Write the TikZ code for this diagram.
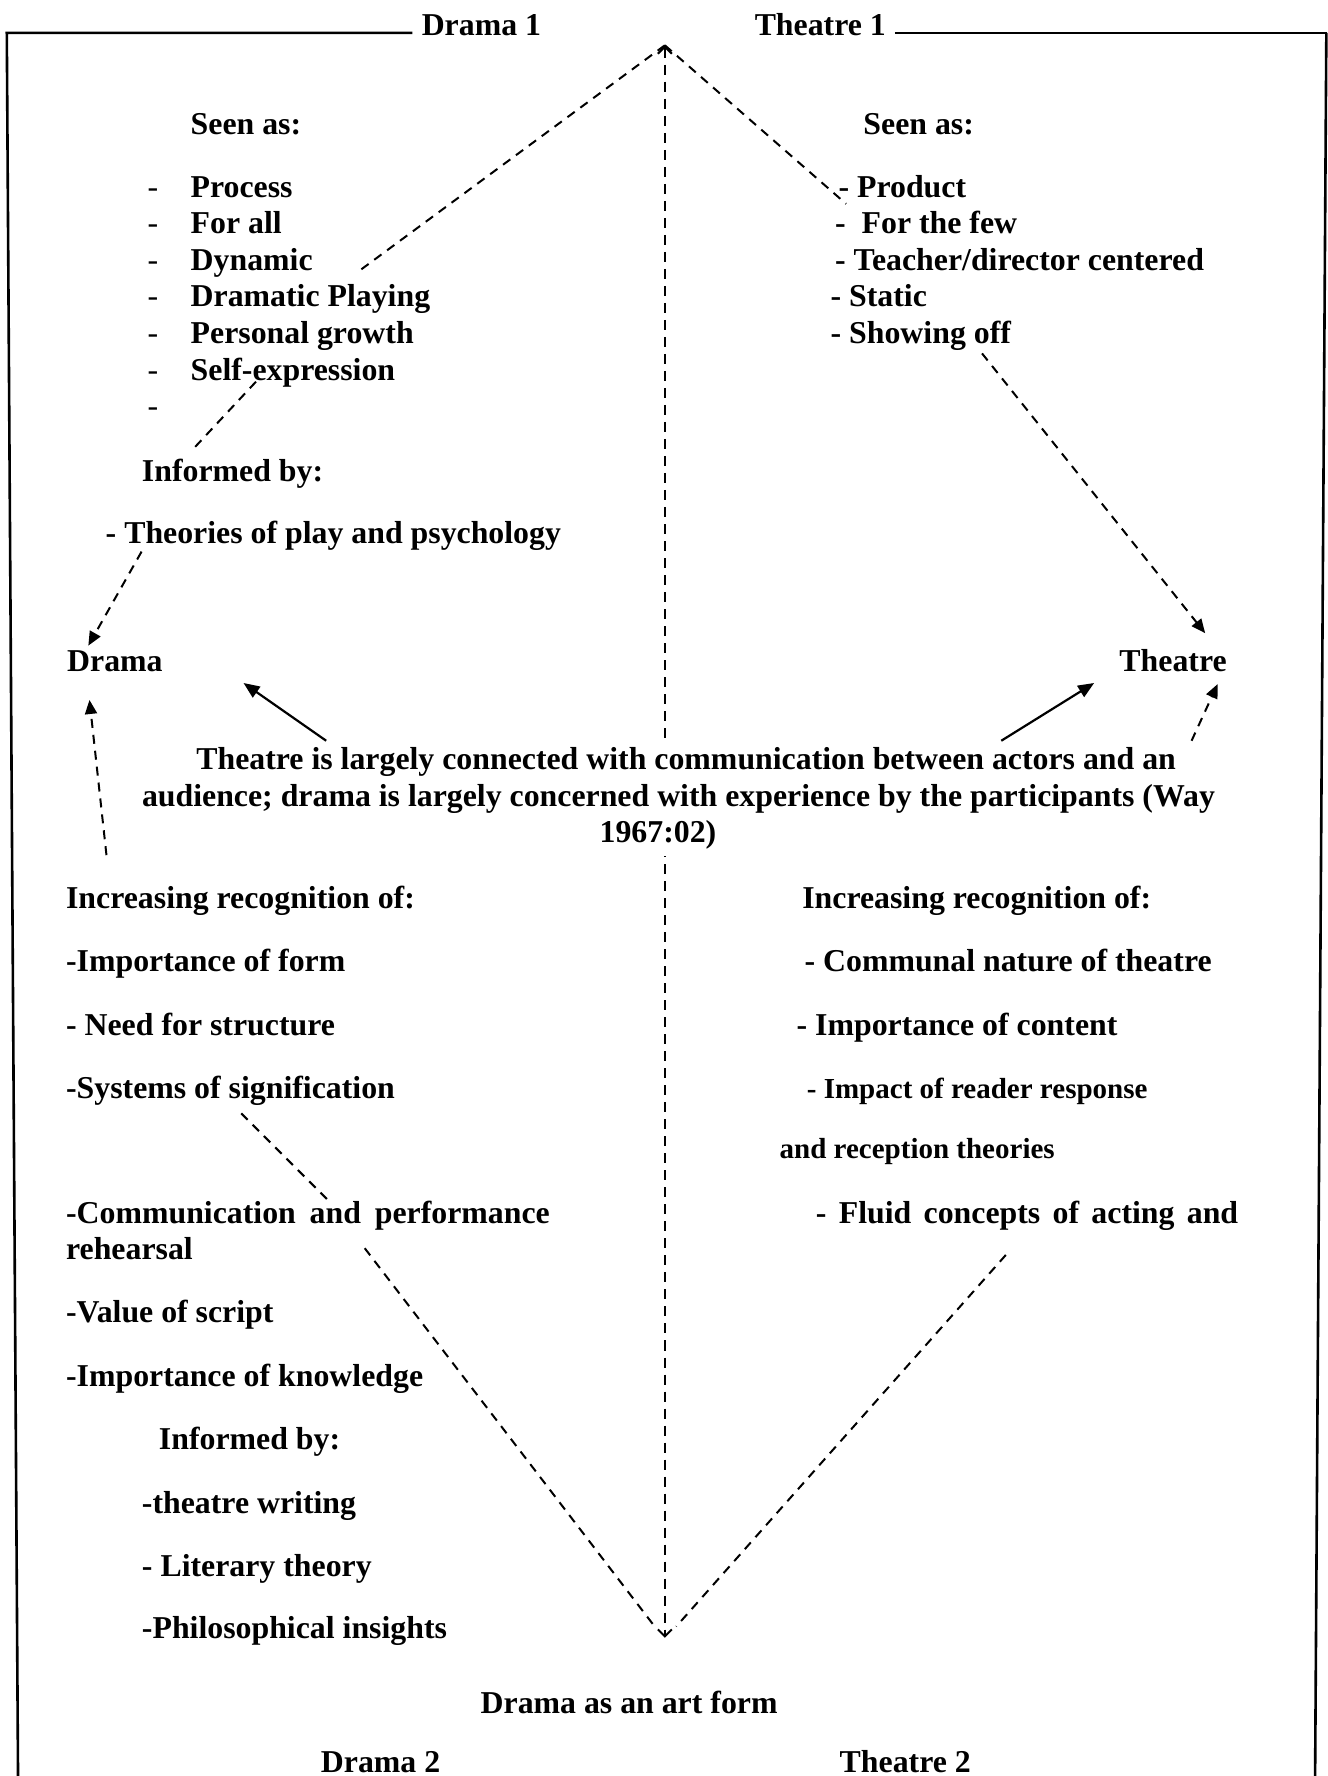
\documentclass[tikz,border=0pt]{standalone}
\usepackage{fontspec}
\setmainfont{Liberation Serif}
\usetikzlibrary{arrows.meta}
\begin{document}
\begin{tikzpicture}[x=0.566pt,y=-0.566pt,
  txt/.style={anchor=base west,inner sep=0pt,font=\fontsize{15.9}{18}\selectfont\bfseries},
  smalltxt/.style={anchor=base west,inner sep=0pt,font=\fontsize{14.5}{17}\selectfont\bfseries},
  quotetxt/.style={txt,fill=white,inner xsep=2pt,inner ysep=3.5pt},
  frameline/.style={line width=1.3pt},
  dashline/.style={line width=1pt,dash pattern=on 4.5pt off 3.5pt},
  dashtip/.style={dashline,-{Triangle[length=7pt,width=6pt]}},
  solidarrow/.style={line width=1.1pt,-{Triangle[length=8pt,width=6.5pt]}},
  axis/.style={line width=1pt,dash pattern=on 5pt off 3.5pt,
    {Straight Barb[length=3.5pt,width=7pt]}-{Straight Barb[length=3.5pt,width=7pt]}},
]
\useasboundingbox (0,0) rectangle (1172,1568);

% ---------- frame ----------
\coordinate (tl) at (6,29);
\coordinate (tlend) at (364,29);
\coordinate (trstart) at (790,29);
\coordinate (tr) at (1172,29);
\coordinate (trcorner) at (1171,29);
\coordinate (bl) at (16,1580);
\coordinate (br) at (1161,1580);
\draw[frameline] (tlend) -- (tl) -- (bl);
\draw[frameline] (trstart) -- (tr);
\draw[frameline] (trcorner) -- (br);

% ---------- central axis (drawn first, the quotation sits on top) ----------
\coordinate (apex) at (587,40);
\coordinate (base) at (587,1446);
\draw[axis] (apex) -- (base);

\node[txt] (dramaone) at (372,31) {Drama 1};
\node[txt] (theatreone) at (666,31) {Theatre 1};

% ---------- upper left: Drama 1 ----------
\node[txt] (seenL) at (168,119) {Seen as:};
\foreach \t [count=\i from 0] in {Process,For all,Dynamic,Dramatic Playing,Personal growth,Self-expression,{}}{
  \node[txt,font=\fontsize{15.9}{18}\selectfont] (dashL\i) at (130,174+32.3*\i) {-};
  \node[txt] (itemL\i) at (168,174+32.3*\i) {\t};
}
\node[txt] (informedL) at (125,425) {Informed by:};
\node[txt] (theories) at (93,480) {- Theories of play and psychology};

% ---------- upper right: Theatre 1 ----------
\node[txt] (seenR) at (762,119) {Seen as:};
\node[txt] (itemR0) at (740,174) {- Product};
\node[txt] (itemR1) at (737,206.3) {-\ \ For the few};
\node[txt] (itemR2) at (737,238.6) {- Teacher/director centered};
\node[txt] (itemR3) at (733,270.9) {- Static};
\node[txt] (itemR4) at (733,303.2) {- Showing off};

% ---------- the two poles ----------
\node[txt] (drama) at (59,593) {Drama};
\node[txt] (theatre) at (988,593) {Theatre};

% ---------- quotation ----------
\node[quotetxt] (quoteA) at (169.5,679) {Theatre is largely connected with communication between actors and an};
\node[quotetxt] (quoteB) at (121.5,712) {audience; drama is largely concerned with experience by the participants (Way};
\node[quotetxt] (quoteC) at (525.5,744) {1967:02)};

% ---------- lower left: Drama 2 ----------
\node[txt] (incL) at (58,802) {Increasing recognition of:};
\node[txt] (formL) at (58,858) {-Importance of form};
\node[txt] (structL) at (58,914) {- Need for structure};
\node[txt] (signL) at (58,970) {-Systems of signification};
\node[txt] (commL) at (58,1080) {\makebox[241.7pt][s]{-Communication and performance}};
\node[txt] (rehL) at (58,1112) {rehearsal};
\node[txt] (scriptL) at (58,1168) {-Value of script};
\node[txt] (knowL) at (58,1224) {-Importance of knowledge};
\node[txt] (informedL2) at (140,1280) {Informed by:};
\node[txt] (writingL) at (125,1336) {-theatre writing};
\node[txt] (literaryL) at (125,1392) {- Literary theory};
\node[txt] (philoL) at (125,1447) {-Philosophical insights};

% ---------- lower right: Theatre 2 ----------
\node[txt] (incR) at (708,802) {Increasing recognition of:};
\node[txt] (communalR) at (710,858) {- Communal nature of theatre};
\node[txt] (contentR) at (703,914) {- Importance of content};
\node[smalltxt] (impactR) at (712,970) {- Impact of reader response};
\node[smalltxt] (receptR) at (688,1023) {and reception theories};
\node[txt] (fluidR) at (720,1080) {\makebox[211pt][s]{- Fluid concepts of acting and}};

% ---------- bottom labels ----------
\node[txt] (artform) at (424,1513) {Drama as an art form};
\node[txt] (dramatwo) at (283,1565) {Drama 2};
\node[txt] (theatretwo) at (741,1565) {Theatre 2};

% ---------- connector end points ----------
\coordinate (ulA) at (316,240);
\coordinate (ulB) at (226,337);
\coordinate (ulC) at (170,397);
\coordinate (ulD) at (125,487);
\coordinate (ulE) at (78,570);
\coordinate (upD) at (94,755);
\coordinate (upE) at (79,618);
\coordinate (urA) at (747,180);
\coordinate (urB) at (867,312);
\coordinate (urC) at (1064,559);
\coordinate (qL) at (288,654);
\coordinate (qLt) at (215,603);
\coordinate (qR) at (884,654);
\coordinate (qRt) at (966,603);
\coordinate (urD) at (1052,654);
\coordinate (urE) at (1075,604);
\coordinate (llA) at (213,983);
\coordinate (llB) at (292,1062);
\coordinate (llC) at (322,1102);
\coordinate (llD) at (578,1436);
\coordinate (lrA) at (888,1108);
\coordinate (lrB) at (597,1436);

% ---------- connectors ----------
\draw[dashline] (apex) -- (ulA);
\draw[dashline] (ulB) -- (ulC);
\draw[dashtip] (ulD) -- (ulE);
\draw[dashtip] (upD) -- (upE);
\draw[dashline] (apex) -- (urA);
\draw[dashtip] (urB) -- (urC);
\draw[solidarrow] (qL) -- (qLt);
\draw[solidarrow] (qR) -- (qRt);
\draw[dashtip] (urD) -- (urE);
\draw[dashline] (llA) -- (llB);
\draw[dashline] (llC) -- (llD);
\draw[dashline] (lrA) -- (lrB);
\end{tikzpicture}
\end{document}
